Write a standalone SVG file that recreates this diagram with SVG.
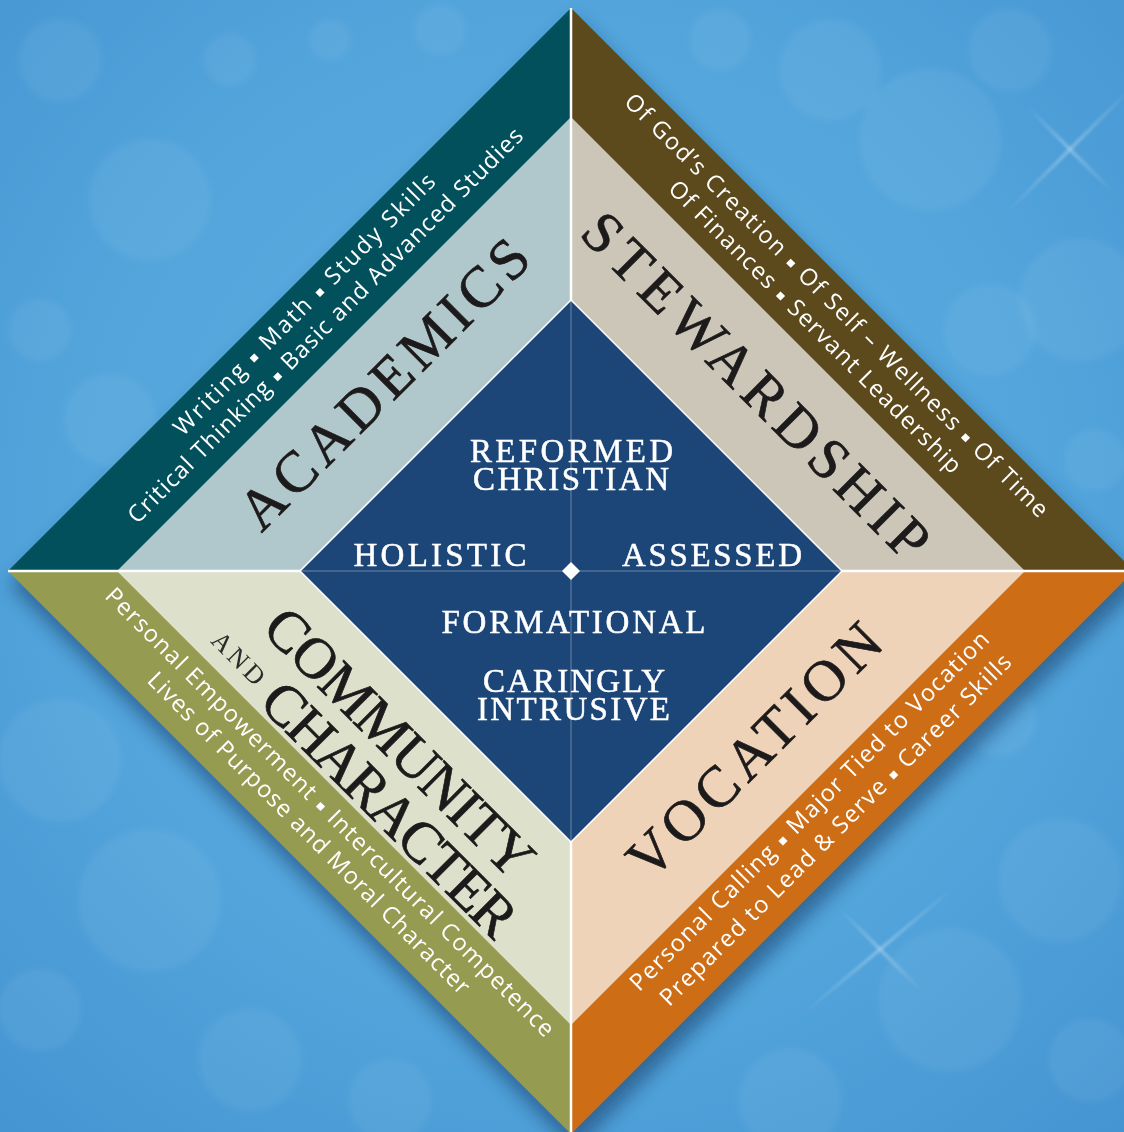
<svg xmlns="http://www.w3.org/2000/svg" width="1124" height="1132" viewBox="0 0 1124 1132">
<defs>
<radialGradient id="bgGrad" cx="0.5" cy="0.45" r="0.75">
<stop offset="0" stop-color="#5fb0e2"/>
<stop offset="0.6" stop-color="#52a4db"/>
<stop offset="1" stop-color="#4594d2"/>
</radialGradient>
<filter id="blur8" x="-20%" y="-20%" width="140%" height="140%"><feGaussianBlur stdDeviation="9"/></filter>
<filter id="blur2" x="-20%" y="-20%" width="140%" height="140%"><feGaussianBlur stdDeviation="1.5"/></filter>
<filter id="blur3" x="-10%" y="-10%" width="120%" height="120%"><feGaussianBlur stdDeviation="3"/></filter>
<linearGradient id="streak" x1="0" y1="0" x2="1" y2="0">
<stop offset="0" stop-color="#fff" stop-opacity="0"/>
<stop offset="0.5" stop-color="#fff" stop-opacity="0.7"/>
<stop offset="1" stop-color="#fff" stop-opacity="0"/>
</linearGradient>
</defs>
<style>
.bokeh{fill:#ffffff;fill-opacity:0.05;stroke:#ffffff;stroke-opacity:0.05;stroke-width:2}
.sub{font-family:"Open Sans","Noto Sans","DejaVu Sans",sans-serif;font-size:23.5px;fill:#ffffff;text-anchor:middle}
.b{font-family:"DejaVu Sans",sans-serif;font-size:13px;baseline-shift:2px}
.title{font-family:"Liberation Serif","DejaVu Serif",serif;font-size:58px;fill:#1c1a1a;stroke:#1c1a1a;stroke-width:0.7;text-anchor:middle}
.and{font-family:"Liberation Serif","DejaVu Serif",serif;font-size:26px;fill:#2a2a2a;text-anchor:middle}
.core{font-family:"Liberation Serif","DejaVu Serif",serif;font-size:33px;fill:#ffffff;stroke:#ffffff;stroke-width:0.5;text-anchor:middle}
.divider{stroke:#ffffff;stroke-width:2.5}
.thin{stroke:#ffffff;stroke-opacity:0.35;stroke-width:1}
</style>

<g id="background">
<rect x="0" y="0" width="1124" height="1132" fill="url(#bgGrad)"/>
<g filter="url(#blur3)">
<circle class="bokeh" cx="60" cy="60" r="40"/>
<circle class="bokeh" cx="150" cy="200" r="60"/>
<circle class="bokeh" cx="40" cy="330" r="30"/>
<circle class="bokeh" cx="230" cy="60" r="25"/>
<circle class="bokeh" cx="330" cy="40" r="20"/>
<circle class="bokeh" cx="110" cy="420" r="45"/>
<circle class="bokeh" cx="440" cy="30" r="25"/>
<circle class="bokeh" cx="720" cy="40" r="30"/>
<circle class="bokeh" cx="830" cy="70" r="50"/>
<circle class="bokeh" cx="930" cy="140" r="70"/>
<circle class="bokeh" cx="1010" cy="50" r="40"/>
<circle class="bokeh" cx="1080" cy="300" r="60"/>
<circle class="bokeh" cx="990" cy="330" r="45"/>
<circle class="bokeh" cx="1095" cy="460" r="30"/>
<circle class="bokeh" cx="60" cy="760" r="60"/>
<circle class="bokeh" cx="150" cy="900" r="70"/>
<circle class="bokeh" cx="40" cy="1010" r="40"/>
<circle class="bokeh" cx="250" cy="1060" r="50"/>
<circle class="bokeh" cx="390" cy="1100" r="40"/>
<circle class="bokeh" cx="790" cy="1100" r="50"/>
<circle class="bokeh" cx="950" cy="1000" r="70"/>
<circle class="bokeh" cx="1060" cy="880" r="60"/>
<circle class="bokeh" cx="1090" cy="1060" r="40"/>
<circle class="bokeh" cx="1000" cy="720" r="35"/>
</g>
<g filter="url(#blur2)" opacity="0.5">
<rect x="980" y="148" width="180" height="3" fill="url(#streak)" transform="rotate(-45 1070 150)"/>
<rect x="1010" y="148" width="120" height="3" fill="url(#streak)" transform="rotate(45 1070 150)"/>
<rect x="780" y="948" width="200" height="3" fill="url(#streak)" transform="rotate(-40 880 950)"/>
<rect x="820" y="948" width="120" height="3" fill="url(#streak)" transform="rotate(45 880 950)"/>
</g>
</g>

<g id="shadow">
<polygon points="575,20 1140,585 575,1150 10,585" fill="#123a66" opacity="0.55" filter="url(#blur8)"/>
</g>

<g id="academics">
<polygon points="571,8 8,571 571,571" fill="#02505c"/>
<polygon points="571,117 117,571 571,571" fill="#b0c7cb"/>
<text class="sub" transform="translate(310,310) rotate(-45)" textLength="359" lengthAdjust="spacing">Writing <tspan class="b">▪</tspan> Math <tspan class="b">▪</tspan> Study Skills</text>
<text class="sub" transform="translate(331,331) rotate(-45)" textLength="548" lengthAdjust="spacing">Critical Thinking <tspan class="b">▪</tspan> Basic and Advanced Studies</text>
<text class="title" transform="translate(397.5,397.5) rotate(-45)" textLength="385" lengthAdjust="spacing">ACADEMICS</text>
</g>

<g id="stewardship">
<polygon points="571,8 1134,571 571,571" fill="#5c4a1d"/>
<polygon points="571,117 1025,571 571,571" fill="#ccc6b9"/>
<text class="sub" transform="translate(831,311) rotate(45)" textLength="588" lengthAdjust="spacing">Of God’s Creation <tspan class="b">▪</tspan> Of Self – Wellness <tspan class="b">▪</tspan> Of Time</text>
<text class="sub" transform="translate(809.5,332.5) rotate(45)" textLength="403" lengthAdjust="spacing">Of Finances <tspan class="b">▪</tspan> Servant Leadership</text>
<text class="title" transform="translate(742.5,399.5) rotate(45)" textLength="465" lengthAdjust="spacing">STEWARDSHIP</text>
</g>

<g id="community">
<polygon points="8,571 571,1134 571,571" fill="#959b50"/>
<polygon points="117,571 571,1025 571,571" fill="#dde0ca"/>
<text class="sub" transform="translate(324.25,817.75) rotate(45)" textLength="624" lengthAdjust="spacing">Personal Empowerment <tspan class="b">▪</tspan> Intercultural Competence</text>
<text class="sub" transform="translate(303.25,838.75) rotate(45)" textLength="445" lengthAdjust="spacing">Lives of Purpose and Moral Character</text>
<text class="title" transform="translate(386,756) rotate(45)" textLength="355" lengthAdjust="spacing">COMMUNITY</text>
<text class="and" transform="translate(232.5,664.5) rotate(45)" textLength="64" lengthAdjust="spacing">AND</text>
<text class="title" transform="translate(376,823) rotate(45)" textLength="335" lengthAdjust="spacing">CHARACTER</text>
</g>

<g id="vocation">
<polygon points="1134,571 571,1134 571,571" fill="#cd6e17"/>
<polygon points="1025,571 571,1025 571,571" fill="#efd3b9"/>
<text class="title" transform="translate(768,764) rotate(-45)" textLength="334" lengthAdjust="spacing">VOCATION</text>
<text class="sub" transform="translate(815,816.5) rotate(-45)" textLength="497" lengthAdjust="spacing">Personal Calling <tspan class="b">▪</tspan> Major Tied to Vocation</text>
<text class="sub" transform="translate(841,835.5) rotate(-45)" textLength="486" lengthAdjust="spacing">Prepared to Lead &amp; Serve <tspan class="b">▪</tspan> Career Skills</text>
</g>

<g id="connectors">
<line class="divider" x1="571" y1="8" x2="571" y2="1132"/>
<line class="divider" x1="8" y1="571" x2="1124" y2="571"/>
</g>

<g id="core">
<polygon points="571,300 842,571 571,842 300,571" fill="#1c4677" stroke="#ffffff" stroke-width="1.5"/>
<line class="thin" x1="571" y1="301" x2="571" y2="841"/>
<line class="thin" x1="301" y1="571" x2="841" y2="571"/>
<polygon points="571,562 580,571 571,580 562,571" fill="#ffffff"/>
<text class="core" x="571.5" y="462" textLength="203" lengthAdjust="spacing">REFORMED</text>
<text class="core" x="571" y="490" textLength="196" lengthAdjust="spacing">CHRISTIAN</text>
<text class="core" x="440" y="566" textLength="173" lengthAdjust="spacing">HOLISTIC</text>
<text class="core" x="712" y="566" textLength="180" lengthAdjust="spacing">ASSESSED</text>
<text class="core" x="573.5" y="633" textLength="264" lengthAdjust="spacing">FORMATIONAL</text>
<text class="core" x="574" y="692" textLength="182" lengthAdjust="spacing">CARINGLY</text>
<text class="core" x="573.5" y="720" textLength="193" lengthAdjust="spacing">INTRUSIVE</text>
</g>
</svg>
